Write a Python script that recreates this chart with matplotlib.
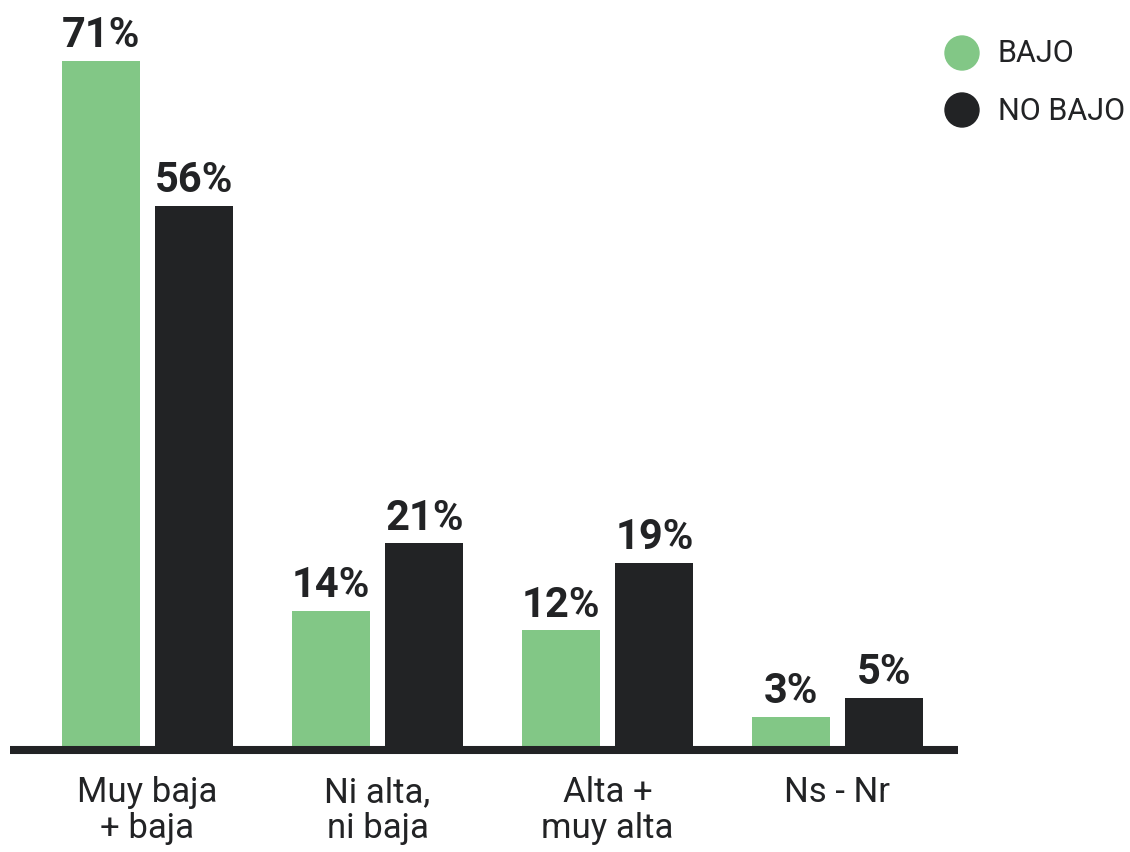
import matplotlib
matplotlib.use('Agg')
import matplotlib.pyplot as plt
import numpy as np

# Data
categories = ['Muy baja\n+ baja', 'Ni alta,\nni baja', 'Alta +\nmuy alta', 'Ns - Nr']
bajo = [71, 14, 12, 3]
no_bajo = [56, 21, 19, 5]
series_names = ['BAJO', 'NO BAJO']

GREEN = '#82c786'
DARK = '#222325'
FONT = 'Roboto'

fig = plt.figure(figsize=(11.3, 8.53), dpi=100)
W, H = 1130, 853
# axes placed in pixel terms: left 10, right 958, baseline at y=747
ax = fig.add_axes([10 / W, (H - 747) / H, 948 / W, 707 / H])

x = np.arange(len(categories))
width = 0.339
off = 0.204
b1 = ax.bar(x - off, bajo, width, color=GREEN)
b2 = ax.bar(x + off, no_bajo, width, color=DARK)

for bars, vals in ((b1, bajo), (b2, no_bajo)):
    for bar, v in zip(bars, vals):
        ax.annotate(f'{v}%', (bar.get_x() + bar.get_width() / 2, v),
                    xytext=(0, 4), textcoords='offset points',
                    ha='center', va='bottom', fontsize=30,
                    fontweight='bold', color=DARK, family=FONT)

px = 9.65  # pixels per percent
ax.set_xlim(-137.5 / 230, (948 - 137.5) / 230)
ax.set_ylim(0, 707 / px)
# thick baseline just under the bars
ax.axhline(-4 / px, color=DARK, linewidth=5.8, clip_on=False,
           solid_capstyle='butt')

for s in ax.spines.values():
    s.set_visible(False)
ax.set_yticks([])
ax.set_xticks(x)
ax.set_xticklabels(categories, fontsize=25, color=DARK, family=FONT,
                   linespacing=1.1)
ax.tick_params(axis='x', length=0, pad=21)

# legend
for i, (name, col) in enumerate(zip(series_names, [GREEN, DARK])):
    yy = (H - 54 - 57 * i) / H
    fig.patches.append(matplotlib.patches.Ellipse(
        (962 / W, yy), 34 / W, 34 / H, transform=fig.transFigure,
        color=col))
    fig.text(998 / W, yy, name, fontsize=22, color=DARK, family=FONT,
             va='center', ha='left')

fig.savefig('out.png', dpi=100)
